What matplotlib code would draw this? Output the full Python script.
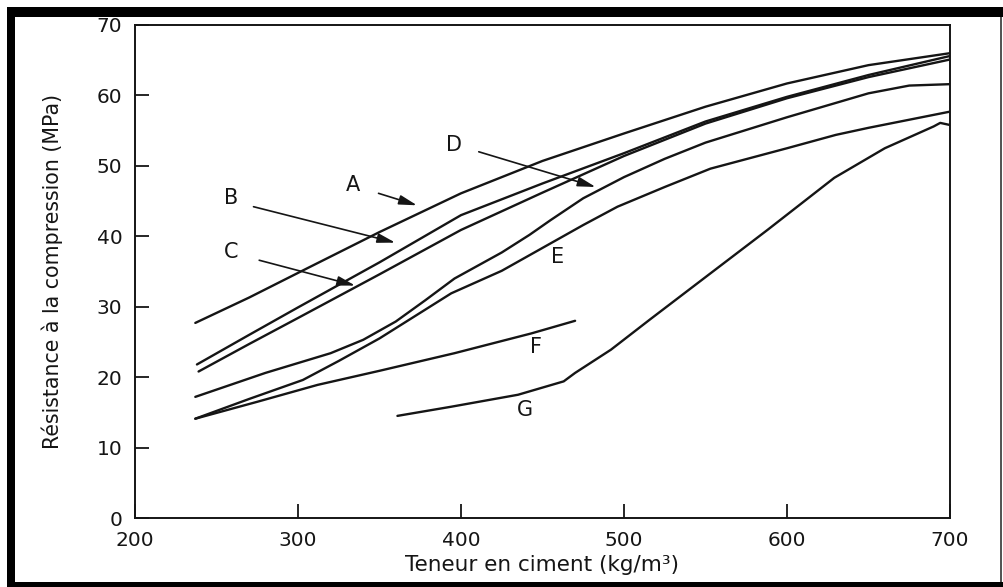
import matplotlib
matplotlib.use("Agg")
import matplotlib.pyplot as plt
from matplotlib.patches import Rectangle

# Compressive strength (MPa) versus cement content (kg/m3), curves A-G
a_x = [237, 270, 300, 350, 400, 450, 500, 550, 600, 650, 700]
a_y = [27.7, 31.3, 34.8, 40.6, 46.1, 50.7, 54.6, 58.4, 61.7, 64.3, 66.0]

b_x = [238, 270, 300, 350, 400, 450, 500, 550, 600, 650, 700]
b_y = [21.8, 26.0, 29.9, 36.3, 43.0, 47.5, 51.8, 56.3, 59.8, 62.9, 65.6]

c_x = [239, 270, 300, 350, 400, 450, 500, 550, 600, 650, 700]
c_y = [20.8, 24.7, 28.4, 34.6, 40.9, 46.2, 51.4, 56.0, 59.6, 62.6, 65.1]

d_x = [237, 280, 320, 340, 360, 378, 396, 425, 442, 455, 475, 500, 525, 550, 600, 650, 675, 700]
d_y = [17.2, 20.6, 23.4, 25.3, 27.9, 30.9, 34.0, 37.7, 40.2, 42.3, 45.4, 48.4, 51.0, 53.3, 56.9, 60.3, 61.4, 61.6]

e_x = [237, 270, 303, 325, 350, 394, 425, 455, 475, 496, 525, 553, 600, 630, 650, 700]
e_y = [14.1, 16.9, 19.6, 22.3, 25.5, 31.9, 35.1, 39.0, 41.6, 44.2, 47.0, 49.6, 52.5, 54.4, 55.4, 57.7]

f_x = [237, 275, 312, 350, 396, 443, 470]
f_y = [14.1, 16.5, 18.9, 20.9, 23.4, 26.2, 28.0]

g_x = [361, 394, 435, 463, 470, 492, 516, 550, 588, 629, 660, 690, 694, 700]
g_y = [14.5, 15.8, 17.5, 19.4, 20.6, 23.9, 28.2, 34.2, 40.9, 48.3, 52.5, 55.6, 56.1, 55.8]

x_ticks = [200, 300, 400, 500, 600, 700]
y_ticks = [0, 10, 20, 30, 40, 50, 60, 70]

ink = "#151515"
plt.rcParams["font.family"] = ["DejaVu Sans"]

fig = plt.figure(figsize=(10.04, 5.87), dpi=100)
fig.patch.set_facecolor("white")
W, H = 1004.0, 587.0
ax = fig.add_axes([135 / W, 1 - 518 / H, (950 - 135) / W, (518 - 25) / H])

for xs, ys in [(a_x, a_y), (b_x, b_y), (c_x, c_y), (d_x, d_y),
               (e_x, e_y), (f_x, f_y), (g_x, g_y)]:
    ax.plot(xs, ys, color=ink, lw=1.7, solid_joinstyle="round", solid_capstyle="round")

ax.set_xlim(200, 700)
ax.set_ylim(0, 70)
ax.set_xticks(x_ticks)
ax.set_yticks(y_ticks)
ax.tick_params(direction="in", length=10, width=1.3, colors=ink, labelsize=14.5,
               top=False, right=False)
ax.tick_params(axis="y", pad=9)
ax.tick_params(axis="x", pad=9)
for s in ax.spines.values():
    s.set_linewidth(1.4)
    s.set_color(ink)

ax.set_xlabel("Teneur en ciment (kg/m³)", fontsize=15.5, color=ink, labelpad=4)
ax.set_ylabel("Résistance à la compression (MPa)", fontsize=14.8, color=ink, labelpad=24)

# curve letters
letter_kw = dict(fontsize=15, color=ink, ha="center", va="center")
ax.text(334, 47.3, "A", **letter_kw)
ax.text(259, 45.4, "B", **letter_kw)
ax.text(259, 37.8, "C", **letter_kw)
ax.text(396, 53.0, "D", **letter_kw)
ax.text(459, 37.1, "E", **letter_kw)
ax.text(446, 24.3, "F", **letter_kw)
ax.text(439, 15.3, "G", **letter_kw)

arrow_kw = dict(arrowstyle="-|>,head_length=0.6,head_width=0.16", color=ink, lw=1.2,
                mutation_scale=18, shrinkA=0, shrinkB=0)
ax.annotate("", xy=(373.0, 44.4), xytext=(349.4, 46.1), arrowprops=arrow_kw)
ax.annotate("", xy=(359.7, 39.1), xytext=(272.7, 44.2), arrowprops=arrow_kw)
ax.annotate("", xy=(335.1, 33.0), xytext=(276.2, 36.6), arrowprops=arrow_kw)
ax.annotate("", xy=(482.6, 47.0), xytext=(410.9, 52.0), arrowprops=arrow_kw)

# heavy outer frame
def band(x0, y0, x1, y1, color="black"):
    fig.add_artist(Rectangle((x0 / W, 1 - y1 / H), (x1 - x0) / W, (y1 - y0) / H,
                             transform=fig.transFigure, facecolor=color,
                             edgecolor="none", zorder=10))

band(7, 7, 1004, 17)
band(7, 7, 15, 587)
band(7, 582, 1004, 587)
band(1000, 17, 1002, 582, color="#555555")

fig.savefig("out.png", dpi=100, facecolor="white")
